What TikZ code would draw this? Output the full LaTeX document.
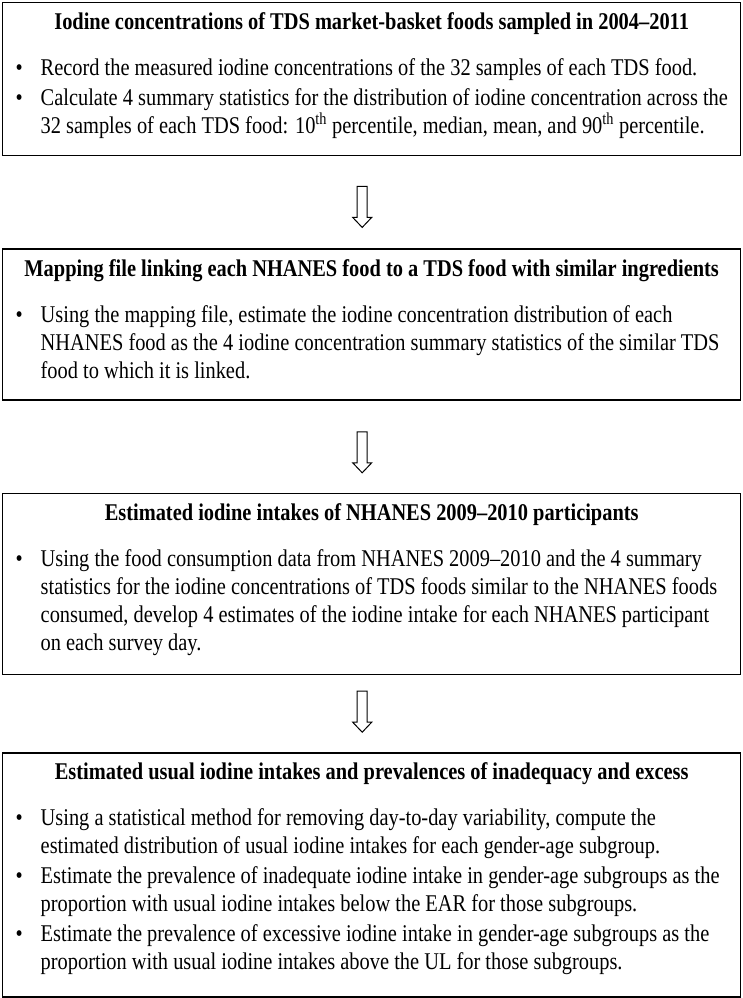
\documentclass[tikz,border=0pt]{standalone}
\usepackage{fontspec}
\setmainfont{Liberation Serif}[FakeStretch=0.85]
\usetikzlibrary{positioning,calc}

\setlength{\parskip}{0pt}
\newcommand{\heading}[1]{\noindent\makebox[\hsize][c]{\bfseries\rule{0pt}{27pt}#1}\par\vspace{18pt}}
\newcommand{\itm}[1]{\par\hangindent=28pt\hangafter=1\noindent\makebox[28pt][l]{\hspace{3pt}\textbullet}#1}
\newcommand{\itmgap}{\par\vspace{2pt}}
\newcommand{\boxend}[1][22pt]{\rule[-#1]{0pt}{#1}\par}

\begin{document}
\begin{tikzpicture}[
            x = 1pt, y = 1pt,
            node distance = 92pt, % gap between boxes
            stage/.style = {draw, line width=1.4pt, inner xsep=10pt, inner ysep=0pt,
                            text width=718pt, align=flush left,
                            font=\fontsize{24}{28}\selectfont},
            down/.pic = {\draw[line width=1pt, line join=miter]
                          (-5,0) -- (5,0) -- (5,-31) -- (9.5,-31) -- (0,-41)
                          -- (-9.5,-31) -- (-5,-31) -- cycle;}
        ]

	\useasboundingbox (0,0) rectangle (742,-998);

	\node[stage, anchor=north west] (tds) at (2,-2) {%
		\heading{Iodine concentrations of TDS market-basket foods sampled in 2004--2011}
		\itm{Record the measured iodine concentrations of the 32 samples of each TDS food.}
		\itmgap
		\itm{Calculate 4 summary statistics for the distribution of iodine concentration across the\newline
		32 samples of each TDS food: 10\textsuperscript{th} percentile, median, mean, and 90\textsuperscript{th} percentile.\boxend}};
	\node[stage, below=of tds] (map) {%
		\heading{Mapping file linking each NHANES food to a TDS food with similar ingredients}
		\itm{Using the mapping file, estimate the iodine concentration distribution of each\newline
		NHANES food as the 4 iodine concentration summary statistics of the similar TDS\newline
		food to which it is linked.\boxend}};
	\node[stage, below=of map] (intake) {%
		\heading{Estimated iodine intakes of NHANES 2009--2010 participants}
		\itm{Using the food consumption data from NHANES 2009--2010 and the 4 summary\newline
		statistics for the iodine concentrations of TDS foods similar to the NHANES foods\newline
		consumed, develop 4 estimates of the iodine intake for each NHANES participant\newline
		on each survey day.\boxend[24pt]}};
	\node[stage, below=77pt of intake] (usual) {%
		\heading{Estimated usual iodine intakes and prevalences of inadequacy and excess}
		\itm{Using a statistical method for removing day-to-day variability, compute the\newline
		estimated distribution of usual iodine intakes for each gender-age subgroup.}
		\itmgap
		\itm{Estimate the prevalence of inadequate iodine intake in gender-age subgroups as the\newline
		proportion with usual iodine intakes below the EAR for those subgroups.}
		\itmgap
		\itm{Estimate the prevalence of excessive iodine intake in gender-age subgroups as the\newline
		proportion with usual iodine intakes above the UL for those subgroups.\boxend[27pt]}};

	\pic at ($(tds.south)+(-9.5,-30)$) {down};
	\pic at ($(map.south)+(-9.5,-31)$) {down};
	\pic at ($(intake.south)+(-9.5,-16)$) {down};

\end{tikzpicture}
\end{document}
